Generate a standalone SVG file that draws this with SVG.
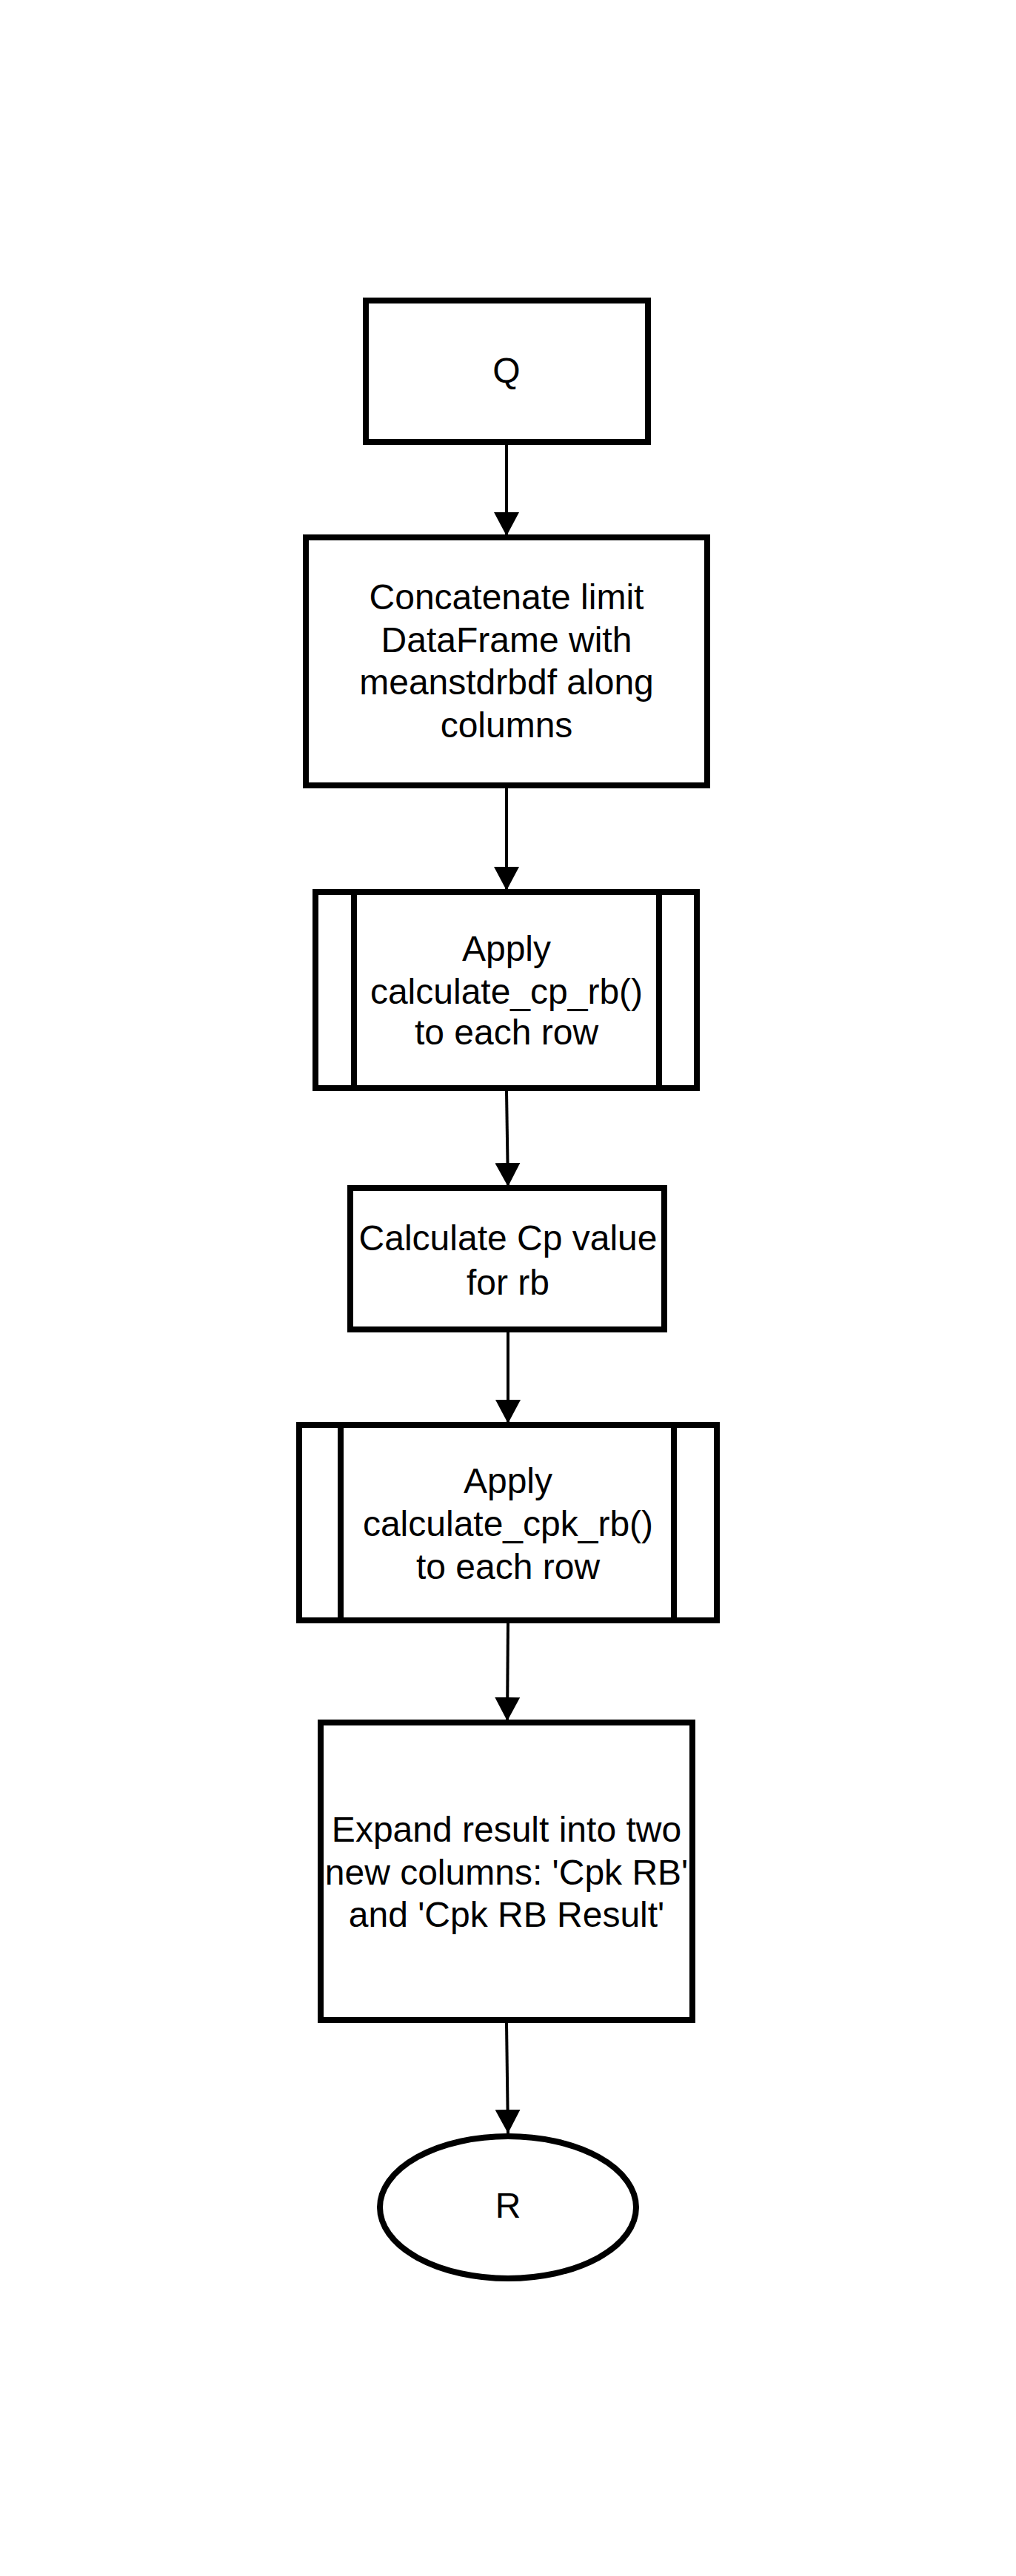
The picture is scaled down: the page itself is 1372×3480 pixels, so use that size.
<svg xmlns="http://www.w3.org/2000/svg" width="1372" height="3480" viewBox="0 0 1372 3480">
<defs>
<style>
.s{fill:#fff;stroke:#000;stroke-width:8}
.l{fill:none;stroke:#000;stroke-width:8}
.c{fill:none;stroke:#000;stroke-width:4}
.t{font-family:"Liberation Sans",Arial,sans-serif;font-size:48px;fill:#000;text-anchor:middle}
</style>
<marker id="ah" viewBox="0 0 10 10" refX="10" refY="5" markerWidth="8" markerHeight="8.5" preserveAspectRatio="none" markerUnits="strokeWidth" orient="auto">
<path d="M0,0 L10,5 L0,10 Z" fill="#000"/>
</marker>
</defs>
<rect width="1372" height="3480" fill="#fff"/>
<g id="connectors">
<line class="c" x1="684" y1="601" x2="684" y2="724" marker-end="url(#ah)"/>
<line class="c" x1="684" y1="1065" x2="684" y2="1203" marker-end="url(#ah)"/>
<line class="c" x1="684" y1="1474" x2="686" y2="1603" marker-end="url(#ah)"/>
<line class="c" x1="686" y1="1800" x2="686" y2="1923" marker-end="url(#ah)"/>
<line class="c" x1="686" y1="2193" x2="685" y2="2325" marker-end="url(#ah)"/>
<line class="c" x1="684" y1="2733" x2="686" y2="2882" marker-end="url(#ah)"/>
</g>
<g id="node-q">
<rect class="s" x="494" y="406" width="381" height="191"/>
<text class="t" x="684" y="517">Q</text>
</g>
<g id="node-concat">
<rect class="s" x="413" y="726" width="542" height="335"/>
<text class="t" x="684" y="823">Concatenate limit</text>
<text class="t" x="684" y="881">DataFrame with</text>
<text class="t" x="684" y="938">meanstdrbdf along</text>
<text class="t" x="684" y="996">columns</text>
</g>
<g id="node-apply-cp">
<rect class="s" x="426" y="1205" width="515" height="265"/>
<line class="l" x1="478" y1="1205" x2="478" y2="1470"/>
<line class="l" x1="890" y1="1205" x2="890" y2="1470"/>
<text class="t" x="684" y="1298">Apply</text>
<text class="t" x="684" y="1356">calculate_cp_rb()</text>
<text class="t" x="684" y="1411">to each row</text>
</g>
<g id="node-calc-cp">
<rect class="s" x="473" y="1605" width="424" height="191"/>
<text class="t" x="686" y="1689">Calculate Cp value</text>
<text class="t" x="686" y="1749">for rb</text>
</g>
<g id="node-apply-cpk">
<rect class="s" x="404" y="1925" width="564" height="264"/>
<line class="l" x1="460" y1="1925" x2="460" y2="2189"/>
<line class="l" x1="910" y1="1925" x2="910" y2="2189"/>
<text class="t" x="686" y="2017">Apply</text>
<text class="t" x="686" y="2075">calculate_cpk_rb()</text>
<text class="t" x="686" y="2133">to each row</text>
</g>
<g id="node-expand">
<rect class="s" x="433" y="2327" width="502" height="402"/>
<text class="t" x="684" y="2488">Expand result into two</text>
<text class="t" x="684" y="2546">new columns: 'Cpk RB'</text>
<text class="t" x="684" y="2603">and 'Cpk RB Result'</text>
</g>
<g id="node-r">
<ellipse class="s" cx="686" cy="2982" rx="173" ry="96"/>
<text class="t" x="686" y="2996">R</text>
</g>
</svg>
